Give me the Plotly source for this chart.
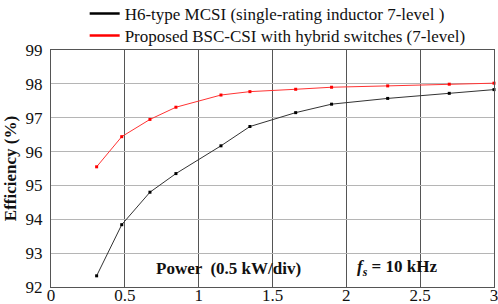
import plotly.graph_objects as go

power = [0.309, 0.479, 0.670, 0.846, 1.151, 1.347, 1.657, 1.900, 2.280, 2.697, 3.0]
eff_h6 = [92.33, 93.84, 94.80, 95.35, 96.17, 96.74, 97.15, 97.40, 97.57, 97.72, 97.83]
eff_bsc = [95.55, 96.44, 96.95, 97.31, 97.67, 97.77, 97.84, 97.90, 97.94, 97.99, 98.02]
names = ["H6-type MCSI (single-rating inductor 7-level )",
         "Proposed BSC-CSI with hybrid switches (7-level)"]
colors = ["#000000", "#ff0000"]
trace_colors = ["#333333", "#ff3333"]
x_ticks = [0, 0.5, 1, 1.5, 2, 2.5, 3]
x_ticklabels = ["0", "0.5", "1", "1.5", "2", "2.5", "3"]

fig = go.Figure()
for ys, c, tc in [(eff_h6, colors[0], trace_colors[0]), (eff_bsc, colors[1], trace_colors[1])]:
    fig.add_trace(go.Scatter(x=power, y=ys, mode="lines+markers",
                             line=dict(color=tc, width=1),
                             marker=dict(symbol="square", size=3, color=c),
                             showlegend=False, cliponaxis=False))
legend_ids = ["legend", "legend2"]
for n, c, lg in zip(names, colors, legend_ids):
    fig.add_trace(go.Scatter(x=[None], y=[None], mode="lines", name=n, legend=lg,
                             line=dict(color=c, width=2.5)))

font = "Liberation Serif, Times New Roman, serif"
leg_common = dict(x=0.076, xanchor="left", yanchor="middle",
                  bgcolor="rgba(0,0,0,0)", font=dict(size=17, family=font),
                  itemwidth=30)
fig.update_layout(
    width=498, height=304,
    margin=dict(l=51, r=4, t=50, b=17, autoexpand=False),
    paper_bgcolor="white", plot_bgcolor="white",
    font=dict(family=font, size=17, color="#111111"),
    legend=dict(y=1 + (50 - 14) / 237, **leg_common),
    legend2=dict(y=1 + (50 - 36) / 237, **leg_common),
    xaxis=dict(range=[0, 3], tickvals=x_ticks, ticktext=x_ticklabels,
               showgrid=True, gridcolor="#555555", gridwidth=1,
               showline=True, linecolor="#555555", linewidth=1, mirror=True,
               zeroline=False, ticks="", tickfont=dict(size=17), ticklabelstandoff=-7,
               ticklabeloverflow="allow"),
    yaxis=dict(range=[92, 99], dtick=1,
               showgrid=True, gridcolor="#b5b5b5", gridwidth=1,
               showline=True, linecolor="#555555", linewidth=1, mirror=True,
               zeroline=False, ticks="", tickfont=dict(size=17), ticklabelstandoff=4,
               ticklabeloverflow="allow",
               title=dict(text="<b>Efficiency (%)</b>", font=dict(size=17), standoff=4)),
    annotations=[
        dict(x=0.70, y=92.56, xref="x", yref="y", xanchor="left", yanchor="middle",
             text="<b>Power  (0.5 kW/div)</b>", showarrow=False, font=dict(size=17)),
        dict(x=2.06, y=92.56, xref="x", yref="y", xanchor="left", yanchor="middle",
             text="<b><i>f</i><sub><i>s</i></sub> = 10 kHz</b>", showarrow=False,
             font=dict(size=17)),
    ],
)
fig.write_html("out.html", config={"displayModeBar": False},
               post_script="document.body.style.margin='0';")
